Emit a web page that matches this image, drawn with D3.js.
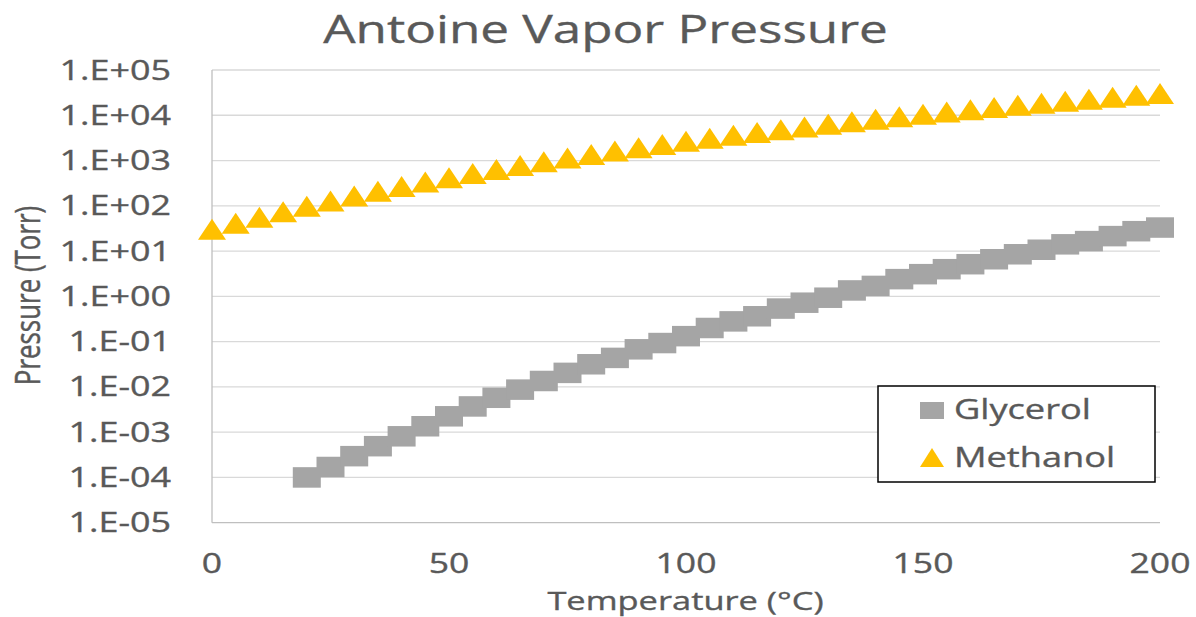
<!DOCTYPE html>
<html>
<head>
<meta charset="utf-8">
<script src="https://cdn.jsdelivr.net/npm/d3@7"></script>
<style>
  html, body { margin: 0; padding: 0; background: #fff; }
  svg { display: block; }
  text { font-family: "Open Sans", "DejaVu Sans", sans-serif; fill: #595959; stroke: #595959; stroke-width: 0.35; }
</style>
</head>
<body>
<svg id="chart" width="1196" height="617"></svg>
<script>
// ---- data ----
const chartTitle = "Antoine Vapor Pressure";
const xTitle = "Temperature (°C)";
const yTitle = "Pressure (Torr)";
const seriesNames = ["Glycerol", "Methanol"];

const methanolT = [0,5,10,15,20,25,30,35,40,45,50,55,60,65,70,75,80,85,90,95,100,
  105,110,115,120,125,130,135,140,145,150,155,160,165,170,175,180,185,190,195,200];
const methanolP = [30.2,41.3,55.6,74.0,97.5,127,164,210,266,334,417,516,634,774,938,
  1131,1356,1616,1916,2259,2652,3098,3604,4174,4814,5531,6330,7218,8206,9297,10500,
  11820,13270,14850,16570,18440,20480,22680,25060,27630,30380];

const glycerolT = [20,25,30,35,40,45,50,55,60,65,70,75,80,85,90,95,100,
  105,110,115,120,125,130,135,140,145,150,155,160,165,170,175,180,185,190,195,200];
const glycerolP = [1.0e-4,1.7e-4,2.95e-4,4.9e-4,8.1e-4,1.35e-3,2.24e-3,3.7e-3,5.75e-3,
  8.7e-3,1.35e-2,2.04e-2,3.16e-2,4.37e-2,6.76e-2,9.3e-2,0.132,0.2,0.28,0.363,0.537,
  0.724,0.933,1.35,1.70,2.40,3.09,3.98,5.13,6.6,8.5,10.7,14.1,16.6,21.4,27.5,33.1];

const xTicks = [0,50,100,150,200];
const yTicks = [1e-5,1e-4,1e-3,1e-2,1e-1,1,10,100,1e3,1e4,1e5];
const yTickLabels = ["1.E-05","1.E-04","1.E-03","1.E-02","1.E-01","1.E+00",
  "1.E+01","1.E+02","1.E+03","1.E+04","1.E+05"];

// ---- layout ----
const SX = 1.34; // horizontal stretch of the reference
const plot = {left: 212, right: 1160, top: 70, bottom: 522.7};
const svg = d3.select("#chart");

const x = d3.scaleLinear().domain([0, 200]).range([plot.left, plot.right]);
const y = d3.scaleLog().domain([1e-5, 1e5]).range([plot.bottom, plot.top]);

function stretched(sel, px, py, extra) {
  return sel.attr("x", 0).attr("y", 0)
    .attr("transform", `translate(${px},${py}) scale(${SX},1)` + (extra || ""));
}

// gridlines
svg.append("g").selectAll("line").data(yTicks).join("line")
  .attr("x1", plot.left).attr("x2", plot.right)
  .attr("y1", d => y(d)).attr("y2", d => y(d))
  .attr("stroke", (d, i) => i === 0 ? "#bfbfbf" : "#d9d9d9")
  .attr("stroke-width", 1.3);

// left axis line
svg.append("line")
  .attr("x1", plot.left).attr("x2", plot.left)
  .attr("y1", plot.top).attr("y2", plot.bottom)
  .attr("stroke", "#bfbfbf").attr("stroke-width", 1.3);

// y tick labels
svg.append("g").selectAll("text").data(yTicks).join("text")
  .each(function(d, i) {
    stretched(d3.select(this), 171, y(d) + 9.5);
  })
  .attr("text-anchor", "end")
  .attr("font-size", 26.8)
  .text((d, i) => yTickLabels[i]);

// x tick labels
svg.append("g").selectAll("text").data(xTicks).join("text")
  .each(function(d) { stretched(d3.select(this), x(d), 573); })
  .attr("text-anchor", "middle")
  .attr("font-size", 26.5)
  .text(d => d);

// title
stretched(svg.append("text"), 605.5, 42.7)
  .attr("text-anchor", "middle")
  .attr("font-size", 38.2)
  .text(chartTitle);

// axis titles
stretched(svg.append("text"), 685.5, 610)
  .attr("text-anchor", "middle")
  .attr("font-size", 25.7)
  .text(xTitle);

stretched(svg.append("text"), 39.5, 295.5, " rotate(-90)")
  .attr("text-anchor", "middle")
  .attr("font-size", 25.9)
  .text(yTitle);

// markers
const glyColor = "#a5a5a5", metColor = "#ffc000";
const sqW = 28, sqH = 20.5, triW = 28, triH = 21;
const triPath = (cx, cy, w, h) =>
  `M${cx - w/2},${cy + h/2}L${cx + w/2},${cy + h/2}L${cx},${cy - h/2}Z`;

const gly = glycerolT.map((t, i) => ({t, p: glycerolP[i]}));
const met = methanolT.map((t, i) => ({t, p: methanolP[i]}));

svg.append("g").selectAll("rect").data(gly).join("rect")
  .attr("x", d => x(d.t) - sqW/2).attr("y", d => y(d.p) - sqH/2)
  .attr("width", sqW).attr("height", sqH)
  .attr("fill", glyColor);

svg.append("g").selectAll("path").data(met).join("path")
  .attr("d", d => triPath(x(d.t), y(d.p), triW, triH))
  .attr("fill", metColor);

// legend
const lg = svg.append("g");
lg.append("rect").attr("x", 878).attr("y", 386).attr("width", 277).attr("height", 96)
  .attr("fill", "#fff").attr("stroke", "#000").attr("stroke-width", 1.5);
lg.append("rect").attr("x", 920).attr("y", 402).attr("width", 24).attr("height", 17)
  .attr("fill", glyColor);
lg.append("path").attr("d", triPath(932, 457.5, 24, 19)).attr("fill", metColor);
stretched(lg.append("text"), 954, 418.5).attr("font-size", 27).text(seriesNames[0]);
stretched(lg.append("text"), 954, 466.5).attr("font-size", 27).text(seriesNames[1]);
</script>
</body>
</html>
